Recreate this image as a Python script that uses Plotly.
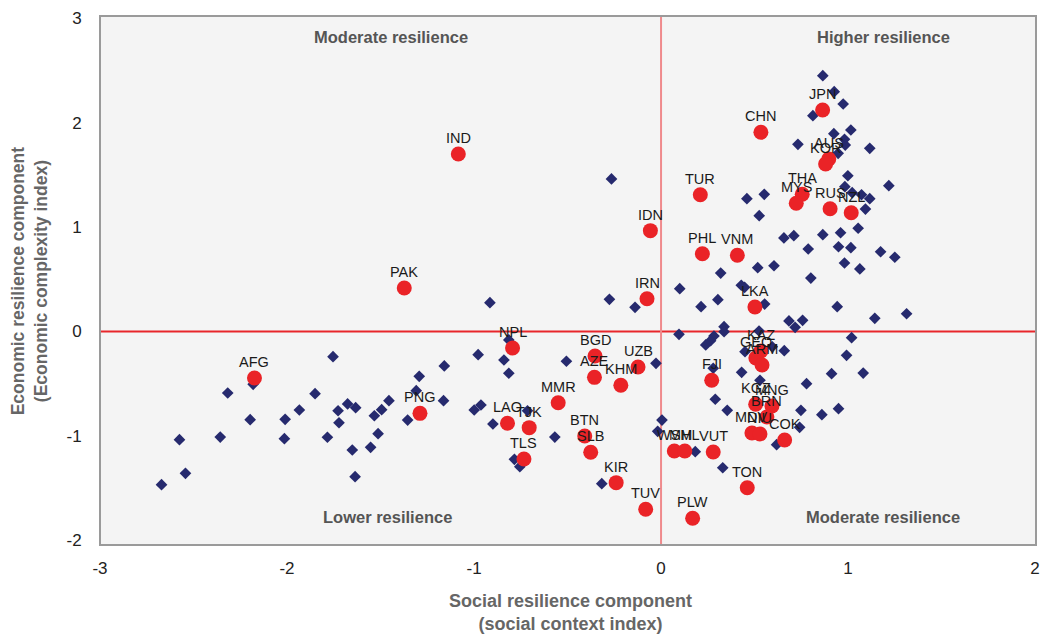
import plotly.graph_objects as go

# ---- Highlighted economies (red circles) ----
hl_codes = ["IND", "PAK", "AFG", "PNG", "NPL", "BGD", "AZE", "UZB", "KHM", "MMR",
            "LAO", "TJK", "TLS", "BTN", "SLB", "KIR", "TUV", "WSM", "MHL", "VUT",
            "PLW", "TON", "FJI", "KAZ", "GEO", "ARM", "KGZ", "MNG", "BRN", "MDV",
            "NIU", "COK", "LKA", "PHL", "VNM", "IDN", "IRN", "TUR", "CHN", "JPN",
            "AUS", "KOR", "THA", "MYS", "RUS", "NZL"]
hl_social = [-1.084, -1.373, -2.174, -1.289, -0.794, -0.353, -0.356, -0.123, -0.215, -0.550,
             -0.821, -0.705, -0.733, -0.408, -0.376, -0.240, -0.082, 0.071, 0.127, 0.279,
             0.169, 0.461, 0.271, 0.534, 0.507, 0.540, 0.506, 0.593, 0.566, 0.486,
             0.529, 0.661, 0.502, 0.221, 0.408, -0.057, -0.075, 0.210, 0.534, 0.864,
             0.897, 0.880, 0.755, 0.723, 0.904, 1.017]
hl_economic = [1.700, 0.417, -0.445, -0.784, -0.158, -0.235, -0.439, -0.340, -0.515, -0.682,
               -0.879, -0.921, -1.221, -1.001, -1.157, -1.448, -1.703, -1.145, -1.145, -1.154,
               -1.789, -1.496, -0.467, -0.187, -0.254, -0.321, -0.697, -0.714, -0.819, -0.972,
               -0.982, -1.039, 0.235, 0.745, 0.730, 0.966, 0.314, 1.310, 1.908, 2.122,
               1.652, 1.604, 1.314, 1.228, 1.176, 1.138]

# ---- Other economies (blue diamonds) ----
oth_social = [-1.754, -2.317, -2.181, -1.850, -2.197, -2.010, -1.934, -2.575, -2.357, -2.014,
              -1.784, -1.727, -1.722, -1.676, -1.633, -1.533, -1.494, -1.455, -1.513, -1.553,
              -1.651, -1.636, -2.543, -2.671, -1.355, -1.309, -1.293, -1.159, -1.163, -0.814,
              -0.978, -0.840, -0.814, -0.506, -0.999, -0.963, -0.714, -0.899, -0.568, -0.784,
              -0.755, -0.317, -0.027, 0.096, 0.005, -0.018, -0.915, -0.265, -0.276, -0.139,
              0.100, 0.214, 0.239, 0.183, 0.657, 0.710, 0.865, 0.960, 0.787, 0.949,
              0.981, 0.517, 0.604, 0.319, 0.801, 0.429, 0.447, 0.304, 0.554, 0.942,
              0.684, 0.757, 0.717, 0.337, 0.337, 0.283, 0.524, 1.143, 1.313, 0.265,
              1.019, 0.449, 0.659, 0.595, 0.992, 0.279, 0.431, 0.912, 1.081, 0.529,
              0.778, 0.290, 0.354, 0.748, 0.860, 0.949, 0.741, 0.618, 0.330, 0.865,
              0.926, 0.974, 0.812, 0.924, 1.015, 0.981, 0.985, 0.732, 1.116, 0.947,
              0.999, 1.218, 0.983, 0.459, 0.552, 0.525, 1.116, 1.093, 1.054, 1.015,
              1.174, 1.250, 1.063, 1.022, 1.072]
oth_economic = [-0.241, -0.589, -0.506, -0.596, -0.845, -0.841, -0.752, -1.036, -1.011, -1.027,
                -1.013, -0.759, -0.874, -0.694, -0.730, -0.807, -0.749, -0.663, -0.979, -1.109,
                -1.135, -1.391, -1.358, -1.467, -0.848, -0.567, -0.429, -0.330, -0.663, -0.081,
                -0.222, -0.273, -0.400, -0.285, -0.752, -0.704, -0.759, -0.886, -1.011, -1.224,
                -1.295, -1.458, -0.305, -0.027, -0.848, -0.956, 0.276, 1.461, 0.308, 0.232,
                0.410, 0.238, -0.129, -1.151, 0.896, 0.918, 0.927, 0.946, 0.790, 0.812,
                0.656, 0.611, 0.630, 0.560, 0.512, 0.443, 0.423, 0.305, 0.263, 0.238,
                0.101, 0.107, 0.040, 0.046, -0.002, -0.043, 0.005, 0.126, 0.170, -0.088,
                -0.059, -0.193, -0.184, -0.146, -0.228, -0.352, -0.391, -0.404, -0.398, -0.467,
                -0.500, -0.649, -0.755, -0.755, -0.797, -0.739, -0.918, -1.084, -1.305, 2.450,
                2.297, 2.179, 2.067, 1.895, 1.930, 1.841, 1.786, 1.793, 1.755, 1.707,
                1.492, 1.397, 1.387, 1.272, 1.314, 1.109, 1.272, 1.173, 0.989, 0.803,
                0.764, 0.711, 0.599, 1.330, 1.310]

x_ticks = [-3, -2, -1, 0, 1, 2]
y_ticks = [-2, -1, 0, 1, 2, 3]

quadrants = ["Moderate resilience", "Higher resilience", "Lower resilience", "Moderate resilience"]

FONT = "Liberation Sans, Arial, Helvetica, sans-serif"

fig = go.Figure()

fig.add_trace(go.Scatter(
    x=oth_social, y=oth_economic, mode="markers",
    marker=dict(symbol="diamond", size=9, color="#262a6e"),
    hoverinfo="skip", showlegend=False))

fig.add_trace(go.Scatter(
    x=hl_social, y=hl_economic, mode="markers",
    marker=dict(symbol="circle", size=15, color="#ea2327"),
    hoverinfo="skip", showlegend=False))

shapes = [
    dict(type="line", xref="x", yref="y", x0=-3, x1=2.005, y0=0, y1=0,
         line=dict(color="#e8262b", width=2), layer="below"),
    dict(type="line", xref="x", yref="y", x0=0, x1=0, y0=-2.045, y1=3.022,
         line=dict(color="#ef8a8c", width=2), layer="below"),
    dict(type="rect", xref="paper", yref="paper", x0=0, x1=1, y0=0, y1=1,
         line=dict(color="#9a9a9a", width=2), layer="above"),
]

annotations = []
# country code labels centred just above each red circle
for cx, cy, code in zip(hl_social, hl_economic, hl_codes):
    annotations.append(dict(x=cx, y=cy, xref="x", yref="y", text=code, showarrow=False,
                            yshift=16, font=dict(family=FONT, size=14.5, color="#1a1a1a")))

qpos = [(-1.442, 2.82), (1.191, 2.82), (-1.464, -1.777), (1.186, -1.777)]
for (qx, qy), qt in zip(qpos, quadrants):
    annotations.append(dict(x=qx, y=qy, xref="x", yref="y", text="<b>" + qt + "</b>",
                            showarrow=False, font=dict(family=FONT, size=16.5, color="#555555")))

annotations.append(dict(x=0.503, y=-0.084, xref="paper", yref="paper",
                        text="<b>Social resilience component</b><br><b>(social context index)</b>",
                        showarrow=False, yanchor="top", align="center",
                        font=dict(family=FONT, size=18, color="#666666")))
annotations.append(dict(x=-0.075, y=0.5, xref="paper", yref="paper", textangle=-90,
                        text="<b>Economic resilience component</b><br><b>(Economic complexity index)</b>",
                        showarrow=False, xanchor="center", align="center",
                        font=dict(family=FONT, size=17.5, color="#666666")))

fig.update_layout(
    width=1044, height=634, autosize=False,
    margin=dict(l=100, r=8, t=16, b=89, autoexpand=False),
    paper_bgcolor="white", plot_bgcolor="#f4f4f4",
    shapes=shapes, annotations=annotations,
    font=dict(family=FONT, color="#222222"),
    xaxis=dict(range=[-3, 2.005], tickvals=x_ticks, ticktext=[str(v) for v in x_ticks],
               showgrid=False, zeroline=False, showline=False, automargin=False,
               ticks="outside", ticklen=8, tickcolor="rgba(0,0,0,0)",
               tickfont=dict(family=FONT, size=17, color="#222222")),
    yaxis=dict(range=[-2.045, 3.022], tickvals=y_ticks, ticktext=[str(v) for v in y_ticks],
               showgrid=False, zeroline=False, showline=False, automargin=False,
               ticks="outside", ticklen=14, tickcolor="rgba(0,0,0,0)",
               tickfont=dict(family=FONT, size=17, color="#222222")),
)

fig.write_html("out.html")
